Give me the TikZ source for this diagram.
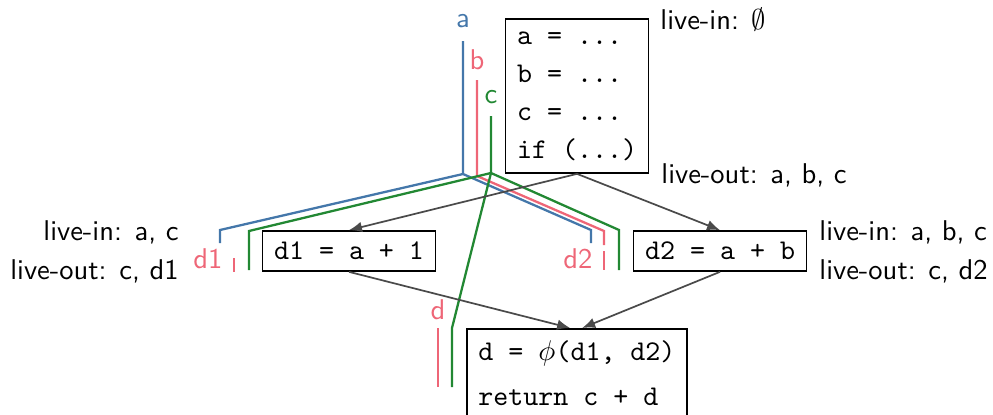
\documentclass[tikz,border=0pt]{standalone}
\usepackage{tikz}
\usetikzlibrary{arrows.meta,positioning,calc}
\definecolor{lvblue}{HTML}{4477AA}
\definecolor{lvred}{HTML}{EE6677}
\definecolor{lvgreen}{HTML}{228833}
\definecolor{lvink}{HTML}{4A4A4A}
\tikzset{
  blk/.style={draw, semithick, font=\ttfamily, align=left, inner xsep=4pt, inner ysep=3pt},
  lv/.style={font=\sffamily, inner sep=1pt},
  tg/.style={font=\sffamily, inner sep=1pt},
  arr/.style={-{Latex[length=1.6mm, width=1.3mm]}, color=lvink, semithick},
  rng/.style={line width=0.8pt},
}

\begin{document}
\begin{tikzpicture}[x=0.35pt, y=-0.35pt]
  \useasboundingbox (0,0) rectangle (993,415);
  % blocks
  \node[blk, minimum width=49.7pt, minimum height=53.9pt] (entry) at (577,96) {a = ...\\[1.3pt]b = ...\\[1.3pt]c = ...\\[1.3pt]if (...)};
  \node[blk, minimum height=14pt] (left) at (349,251) {d1 = a + 1};
  \node[blk, minimum height=14pt] (right) at (720,251) {d2 = a + b};
  \node[blk, anchor=north, inner ysep=4pt] (join) at (577,328) {d = $\phi$(d1, d2)\\[4pt]return c + d};
  % liveness sets
  \node[lv, anchor=west] (inE) at (657,20) {live-in: $\emptyset$};
  \node[lv, anchor=west] (outE) at (658,175) {live-out: a, b, c};
  \node[lv, anchor=east] (inL) at (182,232) {live-in: a, c};
  \node[lv, anchor=east] (outL) at (182,271) {live-out: c, d1};
  \node[lv, anchor=west] (inR) at (816,232) {live-in: a, b, c};
  \node[lv, anchor=west] (outR) at (816,271) {live-out: c, d2};
  % variable tags
  \node[tg, lvblue] (ta) at (463,21) {a};
  \node[tg, lvred] (tb) at (477,60) {b};
  \node[tg, lvgreen] (tc) at (491,97) {c};
  \node[tg, lvred] (td1) at (208,259) {d1};
  \node[tg, lvred] (td2) at (578,259) {d2};
  \node[tg, lvred] (td) at (438,310) {d};
  % live ranges
  \coordinate (aIn) at (463,41);
  \coordinate (aF) at (463,174);
  \coordinate (aL) at (220,230);
  \coordinate (aR) at (591,230);
  \coordinate (bIn) at (477,80);
  \coordinate (bF) at (477,176);
  \coordinate (bR) at (604,231);
  \coordinate (cIn) at (491,116);
  \coordinate (cF) at (491,173);
  \coordinate (cL) at (249,231);
  \coordinate (cR) at (619,230);
  \coordinate (cD) at (452,328);
  \coordinate (d1In) at (234,258);
  \coordinate (d2In) at (604,251);
  \coordinate (dIn) at (438,328);
  \draw[rng, lvblue] (aIn) -- (aF) -- (aL) -- ++(0,13);
  \draw[rng, lvblue] (aF) -- (aR) -- ++(0,13);
  \draw[rng, lvred] (bIn) -- (bF) -- (bR) -- ++(0,14);
  \draw[rng, lvred] (d1In) -- ++(0,14);
  \draw[rng, lvred] (d2In) -- ++(0,19);
  \draw[rng, lvred] (dIn) -- ++(0,59);
  \draw[rng, lvgreen] (cIn) -- (cF) -- (cL) -- ++(0,39);
  \draw[rng, lvgreen] (cF) -- (cR) -- ++(0,40);
  \draw[rng, lvgreen] (cF) -- (cD) -- ++(0,59);
  % control flow
  \draw[arr] (entry.south) -- (left.north);
  \draw[arr] (entry.south) -- (right.north);
  \draw[arr] (left.south) -- ([xshift=-2.4pt]join.north);
  \draw[arr] (right.south) -- ([xshift=1.8pt]join.north);
\end{tikzpicture}
\end{document}
